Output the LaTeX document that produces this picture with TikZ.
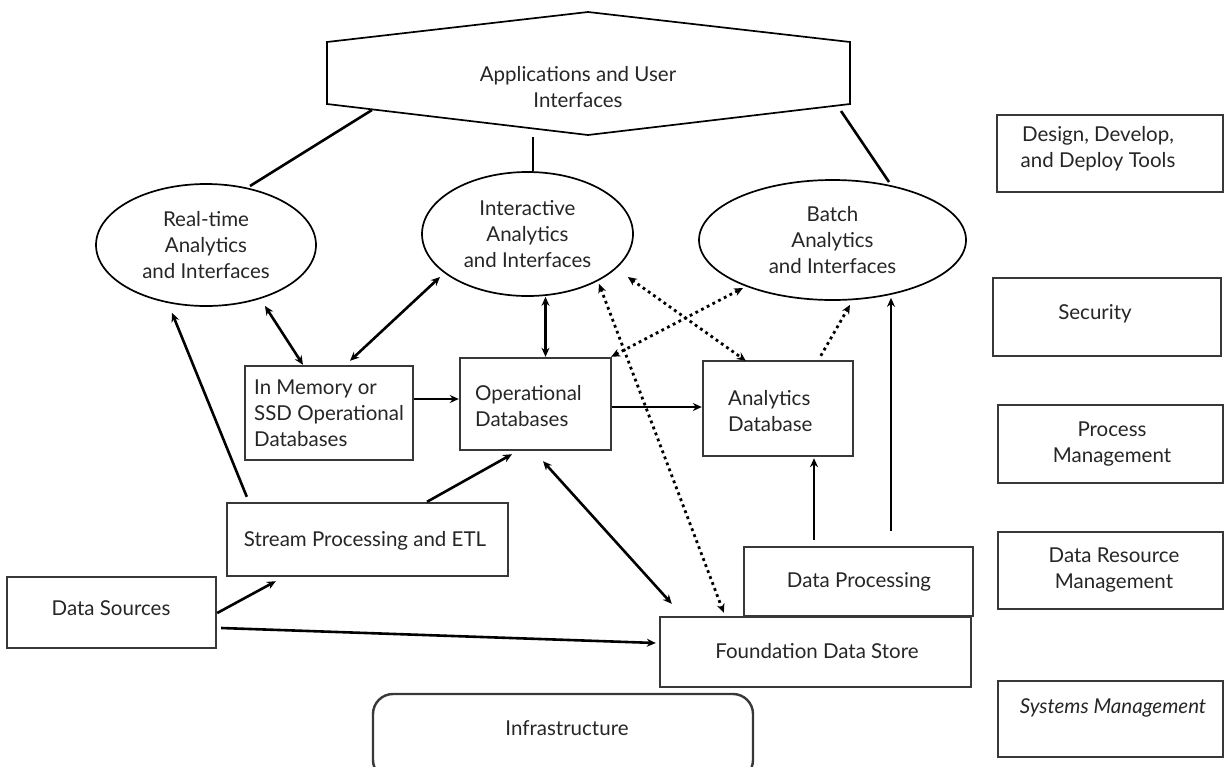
\documentclass[tikz,border=0pt]{standalone}
\usepackage{fontspec}
\setmainfont{Lato}
\usetikzlibrary{arrows.meta,shapes.geometric,calc}
\begin{document}
\begin{tikzpicture}[x=1pt,y=-1pt,
  font=\fontsize{20.5}{26}\selectfont,
  frame/.style={draw=black!78,line width=2.4pt,inner sep=0pt},
  oval/.style={draw,ellipse,line width=1.7pt,inner sep=0pt,align=center,text=black!85},
  lbl/.style={align=center,inner sep=0pt,text=black!85},
  lbll/.style={align=left,inner sep=0pt,text=black!85,anchor=west},
  link/.style={line width=2.6pt},
  tip/.tip={Stealth[length=9pt,width=8pt]},
  flow/.style={link,-tip},
  flowtwo/.style={link,tip-tip},
  dots/.style={line width=2.8pt,dash pattern=on 2.8pt off 3.6pt},
  dflow/.style={dots,-tip},
  dflowtwo/.style={dots,tip-tip}
]
\fill[white] (0,0) rectangle (1225,766);
\useasboundingbox (0,0) rectangle (1225,766);

% top: applications hexagon
\coordinate (hT) at (588,12);
\coordinate (hUR) at (850,42);
\coordinate (hLR) at (850,104);
\coordinate (hB) at (588,135);
\coordinate (hLL) at (327,104);
\coordinate (hUL) at (327,42);
\draw[line width=1.7pt] (hT) -- (hUR) -- (hLR) -- (hB) -- (hLL) -- (hUL) -- cycle;
\node[lbl] (app) at (578,87) {Applications and User\\Interfaces};
\coordinate (h1) at (372,110);
\coordinate (h2) at (533,137);
\coordinate (h3) at (841,111);

% analytics ellipses
\node[oval,minimum width=220pt,minimum height=122pt] (rt) at (206,245) {Real-time\\Analytics\\and Interfaces};
\node[oval,minimum width=211pt,minimum height=124pt] (ia) at (527.5,234) {Interactive\\Analytics\\and Interfaces};
\node[oval,minimum width=267pt,minimum height=120pt] (ba) at (832.5,240) {Batch\\Analytics\\and Interfaces};

% data boxes
\node[frame,minimum width=168pt,minimum height=94pt] (mem) at (329,413) {};
\node[lbll] (memT) at (254,413) {In Memory or\\SSD Operational\\Databases};
\node[frame,minimum width=151pt,minimum height=92pt] (op) at (535.5,404) {};
\node[lbll] (opT) at (475,406) {Operational\\Databases};
\node[frame,minimum width=150pt,minimum height=95pt] (an) at (778,408.5) {};
\node[lbll] (anT) at (728,411.5) {Analytics\\Database};
\node[frame,minimum width=281pt,minimum height=73pt] (st) at (367.5,539.5) {};
\node[lbl] (stT) at (365,541) {Stream Processing and ETL};
\node[frame,minimum width=209pt,minimum height=71pt] (ds) at (111.5,612.5) {};
\node[lbl] (dsT) at (111,608) {Data Sources};
\node[frame,minimum width=229pt,minimum height=69pt] (dp) at (858.5,581.5) {};
\node[lbl] (dpT) at (859,582) {Data Processing};
\node[frame,minimum width=311pt,minimum height=70pt] (fd) at (815.5,652) {};
\node[lbl] (fdT) at (817,651) {Foundation Data Store};
\node[frame,rounded corners=20pt,minimum width=380pt,minimum height=86pt] (inf) at (563,737) {};
\node[lbl] (infT) at (567,728) {Infrastructure};

% side boxes
\node[frame,minimum width=226pt,minimum height=77pt] (design) at (1110,153.5) {};
\node[lbl] (designT) at (1098,149) {Design, Develop,\\and Deploy Tools};
\node[frame,minimum width=228pt,minimum height=78pt] (sec) at (1107,317) {};
\node[lbl] (secT) at (1095,314) {Security};
\node[frame,minimum width=225pt,minimum height=78pt] (proc) at (1110.5,444) {};
\node[lbl] (procT) at (1112,444) {Process\\Management};
\node[frame,minimum width=225pt,minimum height=77pt] (dres) at (1110.5,570.5) {};
\node[lbl] (dresT) at (1114,570) {Data Resource\\Management};
\node[frame,minimum width=225pt,minimum height=76pt] (sys) at (1110.5,719) {};
\node[lbl,font=\fontsize{20.5}{26}\selectfont\itshape] (sysT) at (1113,708) {Systems Management};

% links from the applications layer
\draw[link] (h1) -- ($(rt.center)+(44,-59)$);
\draw[link] (h2) -- (h2 |- ia.north);
\draw[link] (h3) -- ($(ba.center)+(56.5,-58)$);

% solid connectors
\draw[flowtwo] ($(rt.center)+(59,61)$) -- ($(mem.north)+(-26,0)$);
\draw[flowtwo] ($(ia.center)+(-87.5,43)$) -- ($(mem.north)+(21,-4)$);
\coordinate (opN) at ($(op.north)+(10,0)$);
\draw[flowtwo] (opN) -- (opN |- ia.south);
\draw[flow] ($(mem.east)+(0,-14)$) -- ($(op.west)+(0,-5)$);
\draw[flow] ($(op.east)+(0,3)$) -- ($(an.west)+(0,-1.5)$);
\draw[flow] ($(st.north)+(59.5,0)$) -- ($(op.south)+(-23.5,3)$);
\draw[flow] ($(st.north west)+(21,-5)$) -- ($(rt.south)+(-34,6)$);
\draw[flow] ($(ds.east)+(0,0.5)$) -- ($(st.south west)+(50,4)$);
\draw[flow] ($(ds.east)+(4,15.5)$) -- ($(fd.west)+(-3,-9)$);
\draw[flowtwo] ($(op.south)+(7.5,10)$) -- ($(fd.north west)+(13,-12)$);
\draw[flow] ($(dp.north)+(-44.5,-6)$) -- ($(an.south)+(36,1)$);
\draw[flow] ($(dp.north)+(32.5,-15)$) -- ($(ba.south)+(58.5,-3)$);

% dotted connectors
\draw[dflowtwo] ($(ia.south)+(71.5,-13)$) -- ($(fd.north west)+(65,-3)$);
\draw[dflowtwo] ($(ia.east)+(-6,43)$) -- ($(an.north west)+(44,1)$);
\draw[dflowtwo] ($(op.north east)+(-1,0)$) -- ($(ba.center)+(-89.5,48)$);
\draw[dflow] ($(an.north west)+(119,-4)$) -- ($(ba.south)+(17.5,4)$);
\end{tikzpicture}
\end{document}
